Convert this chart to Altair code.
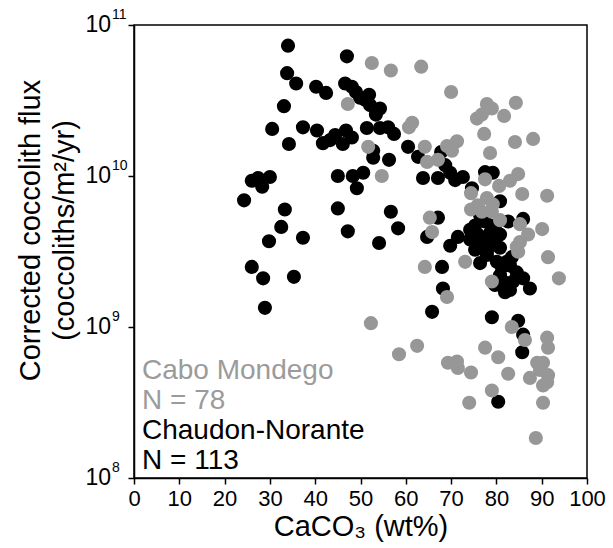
import altair as alt
import pandas as pd

# Chaudon-Norante samples: CaCO3 (wt%) and corrected coccolith flux (coccoliths/m2/yr)
cn_caco3 = [
    34.0, 47.0, 33.8, 35.8, 40.2, 42.4, 46.6, 48.1, 49.9, 51.9,
    52.1, 54.3, 53.4, 33.1, 30.5, 37.3, 40.4, 41.7, 43.3, 46.8,
    48.1, 46.1, 51.4, 54.3, 56.1, 57.4, 34.2, 52.8, 52.8, 56.3,
    60.5, 62.7, 63.8, 67.1, 68.7, 45.0, 48.3, 50.6, 49.2, 26.0,
    27.4, 30.0, 28.3, 24.3, 33.3, 45.0, 56.7, 58.3, 32.5, 29.8,
    37.3, 47.2, 54.1, 67.1, 64.7, 69.8, 26.0, 28.5, 35.3, 28.9,
    67.8, 72.6, 74.6, 77.5, 79.2, 80.8, 82.6, 85.9, 71.5, 68.0,
    68.2, 65.8, 76.4, 77.9, 81.2, 83.0, 84.5, 81.5, 83.7, 85.9,
    87.4, 81.9, 79.0, 84.8, 85.9, 85.7, 80.4, 75.3, 77.5, 79.7,
    75.9, 78.6, 80.8, 76.8, 79.2, 75.3, 77.9, 80.8, 51.0, 49.0,
    80.8, 79.7, 83.0, 78.1, 74.2, 83.4, 80.1, 44.4, 74.2, 76.4,
    70.9, 82.3, 69.8,
]
cn_flux = [
    7.3e10, 6.2e10, 4.8e10, 4.1e10, 3.9e10, 3.55e10, 4.1e10, 3.9e10, 3.3e10, 3.45e10,
    2.95e10, 2.8e10, 2.55e10, 2.9e10, 2.05e10, 2.1e10, 2.0e10, 1.65e10, 1.73e10, 2.0e10,
    1.8e10, 1.63e10, 2.08e10, 2.08e10, 2.1e10, 1.9e10, 1.63e10, 1.47e10, 1.32e10, 1.28e10,
    1.56e10, 1.34e10, 9.7e9, 9.7e9, 1.18e10, 1.0e10, 1.0e10, 1.05e10, 8.3e9, 9.3e9,
    9.7e9, 9.85e9, 8.5e9, 6.9e9, 6.0e9, 6.1e9, 5.8e9, 4.5e9, 4.6e9, 3.7e9,
    3.9e9, 4.3e9, 3.6e9, 5.3e9, 3.95e9, 3.45e9, 2.5e9, 2.1e9, 2.15e9, 1.34e9,
    1.44e10, 9.85e9, 8.3e9, 1.06e10, 1.05e10, 6.8e9, 5.0e9, 5.2e9, 3.95e9, 2.5e9,
    1.8e9, 1.26e9, 2.65e9, 3.0e9, 2.5e9, 2.55e9, 2.3e9, 2.0e9, 2.0e9, 2.1e9,
    1.8e9, 1.7e9, 1.16e9, 1.1e9, 8.9e8, 6.8e8, 3.2e8, 4.7e9, 5.0e9, 4.7e9,
    4.1e9, 4.2e9, 4.1e9, 3.5e9, 3.5e9, 3.25e9, 3.15e9, 3.35e9, 3.2e10, 3.6e10,
    2.2e9, 1.9e9, 1.76e9, 3.8e9, 4.4e9, 2.9e9, 2.7e9, 1.87e10, 3.8e9, 5.5e9,
    9.4e9, 2.7e9, 1.05e10,
]

# Cabo Mondego samples
cm_caco3 = [
    52.5, 56.7, 63.4, 47.2, 70.0, 61.4, 60.7, 51.7, 64.2, 64.7,
    69.1, 71.3, 70.2, 54.7, 65.3, 65.8, 77.9, 79.0, 84.3, 81.7,
    75.7, 76.8, 77.3, 84.1, 88.1, 78.6, 84.8, 83.0, 80.6, 77.5,
    85.7, 91.2, 74.4, 77.9, 79.2, 74.4, 76.8, 79.0, 85.2, 87.0,
    90.1, 85.2, 84.5, 91.4, 73.1, 64.2, 84.8, 93.8, 79.0, 69.1,
    52.3, 58.5, 62.5, 69.3, 71.3, 71.5, 74.4, 77.5, 80.4, 82.6,
    79.0, 74.0, 83.4, 86.3, 91.2, 91.4, 90.3, 89.0, 91.4, 91.2,
    90.3, 87.4, 90.3, 88.7, 67.1, 75.9, 80.8, 89.6,
]
cm_flux = [
    5.6e10, 5.0e10, 5.3e10, 3.0e10, 3.6e10, 2.25e10, 2.1e10, 1.56e10, 1.56e10, 1.24e10,
    1.58e10, 1.7e10, 1.47e10, 1.0e10, 5.3e9, 4.25e9, 3.0e10, 2.8e10, 3.05e10, 2.5e10,
    2.4e10, 2.55e10, 1.9e10, 1.68e10, 1.76e10, 1.42e10, 1.03e10, 9.3e9, 8.6e9, 9.5e9,
    7.6e9, 7.4e9, 7.7e9, 7.15e9, 6.5e9, 6.0e9, 5.8e9, 5.8e9, 4.8e9, 4.1e9,
    4.45e9, 3.65e9, 3.4e9, 2.9e9, 2.7e9, 2.5e9, 3.15e9, 2.1e9, 2.0e9, 1.58e9,
    1.06e9, 6.6e8, 7.5e8, 5.8e8, 5.9e8, 5.35e8, 5.0e8, 7.3e8, 6.3e8, 4.9e8,
    3.8e8, 3.15e8, 1.0e9, 8.2e8, 8.5e8, 7.3e8, 5.8e8, 5.8e8, 4.8e8, 4.3e8,
    4.1e8, 4.6e8, 3.15e8, 1.84e8, 1.28e10, 6.4e9, 5.1e9, 5.2e8,
]

decades = [1e8, 1e9, 1e10, 1e11]
decade_exponents = ["8", "9", "10", "11"]
x_ticks = [0, 10, 20, 30, 40, 50, 60, 70, 80, 90, 100]

key_lines = ["Cabo Mondego", "N = 78", "Chaudon-Norante", "N = 113"]
key_colors = ["#9b9b9b", "#9b9b9b", "#000000", "#000000"]
key_baselines = [354, 384, 414, 444]

BLACK = "#000000"
GREY = "#979797"
FONT = "Liberation Sans"

cn = pd.DataFrame({"caco3": cn_caco3, "flux": cn_flux})
cm = pd.DataFrame({"caco3": cm_caco3, "flux": cm_flux})

x_scale = alt.Scale(domain=[0, 100], nice=False)
y_scale = alt.Scale(type="log", domain=[1e8, 1e11], nice=False)

x_axis = alt.Axis(
    values=x_ticks, title="CaCO₃ (wt%)", grid=False,
    labelFontSize=22, labelFont=FONT, labelColor="black", labelPadding=4,
    labelOverlap=False, labelFlush=False,
    tickSize=6, tickWidth=1.5, tickColor="black",
    domainColor="black", domainWidth=1.5,
    titleFontSize=29, titleFont=FONT, titleFontWeight="normal", titleColor="black",
    titleBaseline="alphabetic", titleY=57,
)
y_axis = alt.Axis(
    values=decades, labels=False, grid=False,
    title=["Corrected coccolith flux", "(coccoliths/m²/yr)"],
    tickSize=6, tickWidth=1.5, tickColor="black",
    domainColor="black", domainWidth=1.5,
    titleFontSize=29, titleFont=FONT, titleFontWeight="normal", titleColor="black",
    titleAngle=-90, titleAlign="center", titleBaseline="alphabetic",
    titleX=-95, titleY=205, titleLineHeight=34,
)

black_pts = alt.Chart(cn).mark_circle(size=200, opacity=1, color=BLACK).encode(
    x=alt.X("caco3:Q", scale=x_scale, axis=x_axis),
    y=alt.Y("flux:Q", scale=y_scale, axis=y_axis),
)
grey_pts = alt.Chart(cm).mark_circle(size=200, opacity=1, color=GREY).encode(
    x=alt.X("caco3:Q", scale=x_scale),
    y=alt.Y("flux:Q", scale=y_scale),
)

# y tick labels as powers of ten: base "10" plus a raised exponent
dec_df = pd.DataFrame({"v": decades, "e": decade_exponents})
base_lbl = alt.Chart(dec_df).mark_text(
    align="right", baseline="middle", fontSize=23, font=FONT, color="black"
).encode(x=alt.value(-23), y=alt.Y("v:Q", scale=y_scale), text=alt.value("10"))
exp_lbl = alt.Chart(dec_df).mark_text(
    align="left", baseline="middle", fontSize=14, font=FONT, color="black", dy=-10
).encode(x=alt.value(-22), y=alt.Y("v:Q", scale=y_scale), text="e:N")

key_df = pd.DataFrame({"t": key_lines, "c": key_colors, "b": key_baselines})
key = alt.Chart(key_df).mark_text(
    align="left", baseline="alphabetic", fontSize=28, font=FONT
).encode(
    x=alt.value(8), y=alt.Y("b:Q", scale=None), text="t:N",
    color=alt.Color("c:N", scale=None),
)

chart = alt.layer(black_pts, grey_pts, base_lbl, exp_lbl, key).properties(
    width=453, height=453,
    autosize=alt.AutoSizeParams(type="none"),
    padding={"left": 134, "top": 25, "right": 26, "bottom": 70},
    background="white",
).configure_view(stroke="black", strokeWidth=1.5)

chart.save("out.html", embed_options={"renderer": "svg", "actions": False})
